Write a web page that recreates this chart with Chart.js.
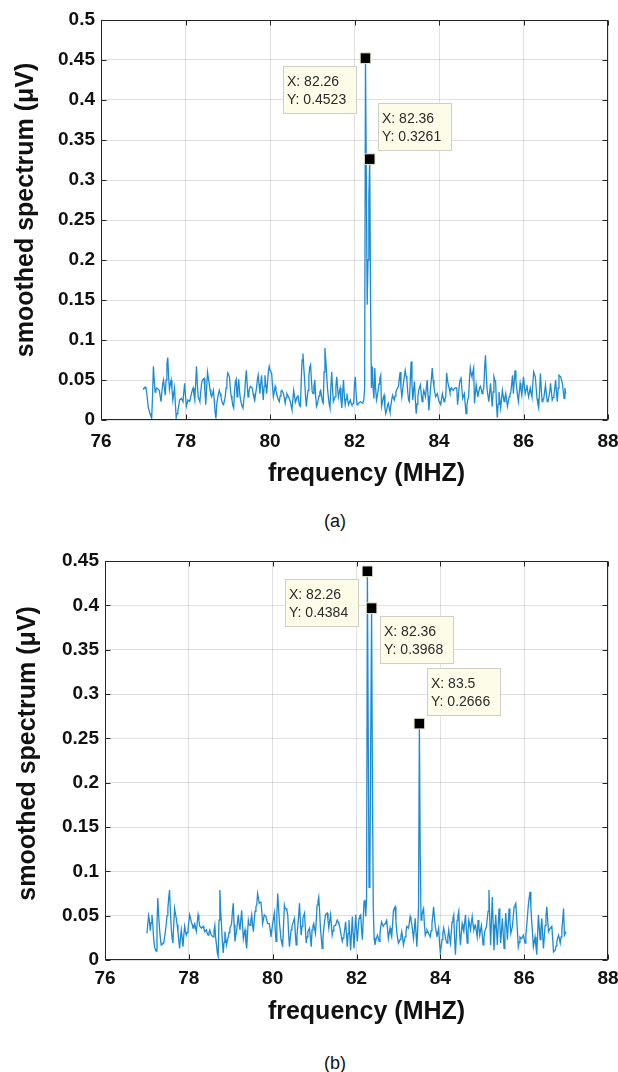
<!DOCTYPE html>
<html>
<head>
<meta charset="utf-8">
<title>smoothed spectrum</title>
<script src="https://cdn.jsdelivr.net/npm/chart.js@4.4.1/dist/chart.umd.min.js"></script>
<style>
  html, body { margin: 0; padding: 0; background: #fff; }
  body { width: 618px; height: 1072px; position: relative; overflow: hidden;
         font-family: 'Liberation Sans', Arial, sans-serif; }
  .panel { position: absolute; left: 0; width: 618px; height: 500px; }
  .caption { position: absolute; left: 235px; width: 200px; text-align: center;
             font-size: 18px; color: #111; line-height: 20px; }
</style>
</head>
<body>
<div class="panel" style="top:0"><canvas id="chart-a" width="618" height="500"></canvas></div>
<div class="caption" style="top:511px">(a)</div>
<div class="panel" style="top:540px"><canvas id="chart-b" width="618" height="500"></canvas></div>
<div class="caption" style="top:1053px">(b)</div>

<script>
// ─── DATA ────────────────────────────────────────────────
// frequency grid of the spectrum (MHz)
const freqStartMHz = 77.0;
const freqStepMHz = 0.02;

// smoothed spectrum, in nV, one line = 0.5 MHz
const spectrumA_nV = [
  38,40,41,41,35,25,15,12,8,5,3,30,67,50,35,38,40,39,38,37,30,23,35,45,50,
  40,31,50,70,78,55,38,45,50,38,25,33,40,20,3,8,12,18,25,26,27,25,23,35,46,
  30,17,21,25,24,23,28,33,37,40,32,25,45,67,45,29,26,23,35,45,50,51,52,35,19,
  40,60,53,46,38,32,29,33,37,25,10,2,20,27,33,37,33,29,24,20,19,24,29,40,50,
  59,57,54,40,30,25,18,15,35,48,51,29,40,51,35,26,21,17,15,25,33,50,62,45,29,
  35,40,42,41,40,33,28,25,33,40,50,56,45,33,45,56,40,25,42,56,45,33,45,60,67,
  62,60,58,42,29,35,42,37,33,28,25,23,30,36,37,35,33,27,21,28,33,31,29,26,23,
  18,13,25,37,30,22,25,29,31,24,18,17,50,75,83,65,50,30,17,28,37,55,66,69,50,
  35,33,42,50,30,17,20,25,30,35,37,30,23,21,60,90,75,58,40,29,20,15,40,60,40,
  23,26,29,42,54,40,29,35,40,25,15,35,50,30,19,26,33,25,19,22,25,21,19,20,21,
  45,54,30,19,20,21,22,23,22,21,22,25,40,452.3,300,144,200,280,326.1,150,40,67,40,27,65,
  40,25,30,37,45,52,56,17,22,28,31,15,8,12,18,21,15,10,18,25,31,28,25,30,35,
  38,40,42,52,60,40,29,38,46,55,62,55,50,35,25,23,50,73,45,25,38,48,25,8,20,
  30,37,41,44,32,23,30,37,33,29,40,50,30,12,25,40,52,65,50,42,35,29,31,33,28,
  23,21,19,26,33,28,23,26,29,59,50,44,40,35,38,40,38,37,39,40,40,40,19,30,44,
  50,54,40,27,30,33,20,8,18,25,29,50,65,58,54,60,65,21,33,44,36,29,35,40,42,
  38,33,37,40,65,81,55,37,30,23,35,46,30,17,35,54,50,48,20,3,20,35,25,15,26,
  37,30,23,28,33,25,17,23,29,32,35,45,56,33,48,62,50,40,30,23,35,46,38,31,42,
  54,43,33,38,44,36,29,34,40,34,29,45,60,57,54,40,27,20,15,35,58,40,23,25,27,
  35,44,33,23,23,23,35,46,35,25,28,31,40,50,35,23,40,56,55,54,50,46,36,27,40,
  33
];

const spectrumB_nV = [
  30,40,50,45,33,42,51,40,25,15,12,10,40,70,50,36,25,17,18,19,19,25,32,40,50,
  58,70,79,55,36,25,19,40,58,52,47,40,32,22,13,25,34,25,15,28,38,32,28,31,34,
  43,51,47,43,40,36,39,41,36,32,42,51,45,38,37,36,37,38,35,32,33,34,30,28,31,
  34,30,28,27,26,33,39,25,17,8,4,45,79,55,39,20,8,20,32,24,17,22,26,31,36,
  38,41,55,64,40,21,28,32,42,51,40,34,45,56,40,24,30,34,20,13,30,45,40,39,45,
  51,40,32,45,55,60,62,75,70,64,65,66,55,41,46,51,50,49,45,41,41,41,34,26,34,
  41,47,53,35,21,50,75,60,43,33,23,19,17,40,62,58,58,55,51,30,15,25,34,38,41,
  44,47,30,17,28,38,50,64,45,28,38,47,50,53,35,19,26,32,34,36,25,15,34,38,41,
  35,30,45,62,66,71,55,36,25,13,25,36,44,51,52,53,45,36,44,51,40,28,33,38,39,
  39,42,45,43,41,37,32,26,21,25,28,35,43,30,15,30,45,28,11,30,49,30,13,30,51,
  35,21,35,47,50,51,35,23,45,66,68,49,70,438.4,250,82,100,250,396.8,200,60,25,17,22,25,
  28,25,21,30,38,43,40,38,40,41,43,45,35,24,30,36,30,26,40,55,58,60,45,32,25,
  19,21,23,27,32,25,17,22,26,32,38,37,36,42,49,45,40,32,24,35,47,30,15,35,60,
  266.6,120,45,50,55,58,40,28,31,34,32,30,28,26,33,41,50,60,48,38,32,26,31,36,20,
  8,15,23,30,36,31,26,22,19,26,34,26,19,30,43,47,51,25,6,25,45,50,55,30,17,
  30,41,36,32,42,51,35,19,32,45,40,34,42,49,40,34,37,39,32,26,45,37,28,34,39,
  28,17,25,32,35,38,47,55,79,45,17,45,71,40,11,30,51,35,17,38,58,40,19,33,47,
  30,13,33,53,38,23,40,58,44,30,34,38,49,60,62,64,48,32,15,20,26,25,24,26,28,
  24,19,28,38,50,62,70,77,60,43,30,15,20,26,16,6,28,51,37,23,35,47,30,13,26,
  39,50,60,46,32,34,36,37,38,24,9,10,11,16,21,25,28,24,19,26,34,46,58,28,30,
  32
];

// data tips (peaks marked on the plots)
const peaksA_MHz = [82.26, 82.36];
const peaksA_uV  = [0.4523, 0.3261];
const peaksB_MHz = [82.26, 82.36, 83.5];
const peaksB_uV  = [0.4384, 0.3968, 0.2666];

// tick labels
const xTicksMHz = [76, 78, 80, 82, 84, 86, 88];
const yTicksA = [0, 0.05, 0.1, 0.15, 0.2, 0.25, 0.3, 0.35, 0.4, 0.45, 0.5];
const yTicksB = [0, 0.05, 0.1, 0.15, 0.2, 0.25, 0.3, 0.35, 0.4, 0.45];

// axis titles
const xTitle = 'frequency (MHZ)';
const yTitle = 'smoothed spectrum (μV)';

// ─── STYLE ───────────────────────────────────────────────
const FONT = "'Liberation Sans', Arial, sans-serif";
const LINE_BLUE = '#1b8bd3';
const TEXT = '#111';

// ─── PLUGINS ─────────────────────────────────────────────
// matlab style box with inward tick marks
const boxFrame = {
  id: 'boxFrame',
  afterDatasetsDraw(chart) {
    const { ctx, chartArea: a, scales: { x, y } } = chart;
    const L = Math.round(a.left) + 0.5, R = Math.round(a.right) - 0.5;
    const T = Math.round(a.top) + 0.5, B = Math.round(a.bottom) - 0.5;
    ctx.save();
    ctx.strokeStyle = '#262626';
    ctx.lineWidth = 1;
    ctx.strokeRect(L, T, R - L, B - T);
    ctx.beginPath();
    x.ticks.forEach(t => {
      const px = Math.round(x.getPixelForValue(t.value)) + 0.5;
      ctx.moveTo(px, B); ctx.lineTo(px, B - 5);
      ctx.moveTo(px, T); ctx.lineTo(px, T + 5);
    });
    y.ticks.forEach(t => {
      const py = Math.round(y.getPixelForValue(t.value)) + 0.5;
      ctx.moveTo(L, py); ctx.lineTo(L + 5, py);
      ctx.moveTo(R, py); ctx.lineTo(R - 5, py);
    });
    ctx.stroke();
    ctx.restore();
  }
};

// yellow data tip boxes next to the marked peaks
const dataTips = {
  id: 'dataTips',
  afterDatasetsDraw(chart, args, opts) {
    const { ctx, scales: { x, y } } = chart;
    const gap = 8, h = 48;
    ctx.save();
    ctx.font = '14px ' + FONT;
    ctx.textBaseline = 'alphabetic';
    opts.xs.forEach((fx, i) => {
      const fy = opts.ys[i];
      const place = opts.places[i].split('-');
      const px = x.getPixelForValue(fx), py = y.getPixelForValue(fy);
      const lines = ['X: ' + fx, 'Y: ' + fy];
      const w = Math.round(Math.max(...lines.map(s => ctx.measureText(s).width)) + 15);
      const bx = Math.round(place[0] === 'left' ? px - gap - w : px + gap);
      const by = Math.round(place[1] === 'below' ? py + gap : py - gap - h);
      ctx.fillStyle = '#fcfce9';
      ctx.fillRect(bx, by, w, h);
      ctx.strokeStyle = '#cfcfc4';
      ctx.lineWidth = 1;
      ctx.strokeRect(bx + 0.5, by + 0.5, w - 1, h - 1);
      ctx.fillStyle = '#2b2b2b';
      ctx.fillText(lines[0], bx + 4, by + 20);
      ctx.fillText(lines[1], bx + 4, by + 38);
    });
    ctx.restore();
  }
};

// axis titles, placed like matlab does (a bit off the plot centre)
const axisTitles = {
  id: 'axisTitles',
  afterDraw(chart, args, o) {
    const { ctx, chartArea: a } = chart;
    ctx.save();
    ctx.font = 'bold 25px ' + FONT;
    ctx.fillStyle = TEXT;
    ctx.textAlign = 'center';
    ctx.textBaseline = 'middle';
    ctx.fillText(xTitle, (a.left + a.right) / 2 + o.xShift, a.bottom + o.xDrop);
    ctx.translate(o.yLeft, (a.top + a.bottom) / 2 + o.yShift);
    ctx.rotate(-Math.PI / 2);
    ctx.fillText(yTitle, 0, 0);
    ctx.restore();
  }
};

// ─── CHART ───────────────────────────────────────────────
function makeSpectrum(id, cfg) {
  const series = cfg.values.map((v, i) => ({
    x: +(freqStartMHz + i * freqStepMHz).toFixed(2),
    y: v / 1000
  }));
  const marks = cfg.peakX.map((fx, i) => ({ x: fx, y: cfg.peakY[i] }));

  return new Chart(document.getElementById(id), {
    type: 'line',
    data: {
      datasets: [
        {
          data: marks,
          showLine: false,
          pointStyle: 'rect',
          pointRadius: 7.5,
          pointBackgroundColor: '#000',
          pointBorderColor: '#e6e6c8',
          pointBorderWidth: 1
        },
        {
          data: series,
          borderColor: LINE_BLUE,
          borderWidth: 1.3,
          pointRadius: 0,
          tension: 0,
          fill: false
        }
      ]
    },
    options: {
      responsive: false,
      animation: false,
      events: [],
      layout: { padding: { top: cfg.padTop, right: cfg.padRight, bottom: 0, left: 0 } },
      plugins: {
        legend: { display: false },
        tooltip: { enabled: false },
        dataTips: { xs: cfg.peakX, ys: cfg.peakY, places: cfg.places },
        axisTitles: cfg.titles
      },
      scales: {
        x: {
          type: 'linear',
          min: 76, max: 88,
          afterBuildTicks: s => { s.ticks = xTicksMHz.map(v => ({ value: v })); },
          afterFit: s => { s.height = 80; s.paddingLeft = 0; s.paddingRight = 0; },
          grid: { color: 'rgba(0,0,0,0.12)', drawTicks: false },
          border: { display: false },
          ticks: {
            autoSkip: false, maxRotation: 0, padding: cfg.xTickPad,
            color: TEXT, font: { family: FONT, size: 19, weight: 'bold' },
            callback: v => String(v)
          }
        },
        y: {
          min: 0, max: cfg.yMax,
          afterBuildTicks: s => { s.ticks = cfg.yTicks.map(v => ({ value: v })); },
          afterFit: s => { s.width = cfg.yWidth; s.paddingTop = 0; s.paddingBottom = 0; },
          grid: { color: 'rgba(0,0,0,0.12)', drawTicks: false },
          border: { display: false },
          ticks: {
            autoSkip: false, padding: 6,
            color: TEXT, font: { family: FONT, size: 19, weight: 'bold' },
            callback: v => String(+(+v).toFixed(2))
          }
        }
      }
    },
    plugins: [boxFrame, dataTips, axisTitles]
  });
}

makeSpectrum('chart-a', {
  values: spectrumA_nV, peakX: peaksA_MHz, peakY: peaksA_uV,
  places: ['left-below', 'right-above'],
  yMax: 0.5, yTicks: yTicksA,
  padTop: 20, padRight: 10, yWidth: 101, xTickPad: 10,
  titles: { xShift: 12, xDrop: 54, yLeft: 26, yShift: -10 }
});

makeSpectrum('chart-b', {
  values: spectrumB_nV, peakX: peaksB_MHz, peakY: peaksB_uV,
  places: ['left-below', 'right-below', 'right-above'],
  yMax: 0.45, yTicks: yTicksB,
  padTop: 21, padRight: 10, yWidth: 105, xTickPad: 7,
  titles: { xShift: 10, xDrop: 52, yLeft: 28, yShift: -7 }
});
</script>
</body>
</html>
